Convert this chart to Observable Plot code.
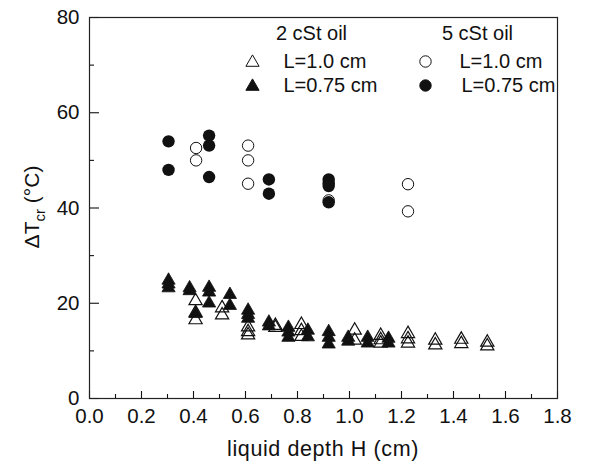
<!DOCTYPE html>
<html>
<head>
<meta charset="utf-8">
<script src="https://cdn.jsdelivr.net/npm/d3@7"></script>
<script src="https://cdn.jsdelivr.net/npm/@observablehq/plot@0.6"></script>
<style>
  html, body { margin: 0; padding: 0; background: white; }
</style>
</head>
<body>
<div id="chart"></div>
<script>
// ---- Data ----
// 2 cSt oil, L = 1.0 cm (open triangles)
const triOpenH = [0.408,0.408,0.408, 0.51,0.51, 0.61,0.61,0.61, 0.715,0.715, 0.815,0.815,0.815,
                  1.02,1.02, 1.12,1.12,1.12, 1.225,1.225,1.225, 1.33,1.33, 1.43,1.43, 1.53,1.53];
const triOpenT = [20.5,18,16.5, 19,17.5, 15,14,13.3, 15.3,14.9, 15.5,14.2,13,
                  14.3,12.2, 13.2,12.3,11.6, 13.6,12.5,11.6, 12.2,11.2, 12.4,11.5, 11.8,11];
// 2 cSt oil, L = 0.75 cm (filled triangles)
const triFillH = [0.304,0.304,0.304, 0.385,0.385, 0.408, 0.46,0.46,0.46, 0.54,0.54, 0.61,0.61,0.61,
                  0.69,0.69, 0.765,0.765,0.765, 0.84,0.84, 0.92,0.92,0.92, 0.995,0.995, 1.07,1.07, 1.15,1.15];
const triFillT = [24.8,24,23.2, 23.2,22.6, 17.8, 23.3,22.3,20, 21.8,19.5, 18.5,17.6,16.8,
                  16,15.2, 14.9,13.9,12.8, 14.3,12.9, 14,12.8,11.4, 12.8,12, 12.8,11.6, 12.6,11.6];
// 5 cSt oil, L = 1.0 cm (open circles)
const cirOpenH = [0.41,0.41, 0.61,0.61,0.61, 0.92, 1.225,1.225];
const cirOpenT = [52.6,50, 53.1,50,45.1, 41.6, 45,39.3];
// 5 cSt oil, L = 0.75 cm (filled circles)
const cirFillH = [0.304,0.304, 0.46,0.46,0.46, 0.69,0.69, 0.92,0.92,0.92,0.92];
const cirFillT = [54,48, 55.2,53.1,46.5, 46,43, 46,45.2,44.6,41.2];

// Ticks
const xMajor = [0,0.2,0.4,0.6,0.8,1.0,1.2,1.4,1.6,1.8];
const xMinor = [0.1,0.3,0.5,0.7,0.9,1.1,1.3,1.5,1.7];
const yMajor = [0,20,40,60,80];
const yMinor = [10,30,50,70];

// Legend texts
const legendGroups = ["2 cSt oil", "5 cSt oil"];
const legendLabels = ["L=1.0 cm", "L=0.75 cm"];

const W = 594, H = 470, mL = 89, mR = 37, mT = 17, mB = 72;
const frameW = W - mL - mR, frameH = H - mT - mB;
const ink = "#111";
const font = "'Liberation Sans', Arial, Helvetica, sans-serif";
const fs = 20.5, lfs = 20;

const idx = a => d3.range(a.length);
const series = (Hs, Ts, opts) =>
  Plot.dot(idx(Hs), {x: i => Hs[i], y: i => Ts[i], ...opts});

const triR = 4.9, cirR = 5.7;

const legendDot = (dx, dy, symbol, filled) =>
  Plot.dot([0], {frameAnchor: "top-left", dx, dy, symbol, r: symbol === "triangle" ? triR : cirR,
                 stroke: ink, strokeWidth: 1, fill: filled ? ink : "none"});
const legendText = (txt, dx, dy, anchor) =>
  Plot.text([txt], {text: d => d, frameAnchor: "top-left", lineAnchor: "middle", dx, dy,
                    textAnchor: anchor, fill: ink, fontSize: lfs});

const chart = Plot.plot({
  width: W, height: H,
  marginLeft: mL, marginRight: mR, marginTop: mT, marginBottom: mB,
  style: {fontFamily: font, fontSize: fs + "px", color: ink, background: "white"},
  x: {domain: [0, 1.8]},
  y: {domain: [0, 80]},
  marks: [
    Plot.ruleX(xMajor, {insetTop: frameH - 7, stroke: ink, strokeWidth: 1.1}),
    Plot.ruleX(xMinor, {insetTop: frameH - 4, stroke: ink, strokeWidth: 1.1}),
    Plot.ruleY(yMajor, {insetRight: frameW - 10, stroke: ink, strokeWidth: 1.1}),
    Plot.ruleY(yMinor, {insetRight: frameW - 5, stroke: ink, strokeWidth: 1.1}),
    Plot.frame({stroke: "#222", strokeWidth: 1.2}),
    Plot.axisX({ticks: xMajor, tickSize: 0, tickPadding: 10, tickFormat: d3.format(".1f"),
                label: null, fontSize: fs, fill: ink}),
    Plot.axisY({ticks: yMajor, tickSize: 0, tickPadding: 10, label: null, fontSize: fs, fill: ink}),
    series(triFillH, triFillT, {symbol: "triangle", r: triR, fill: ink, stroke: ink, strokeWidth: 0.8}),
    series(cirFillH, cirFillT, {symbol: "circle", r: cirR + 0.5, fill: ink, stroke: "none"}),
    series(triOpenH, triOpenT, {symbol: "triangle", r: triR, fill: "none", stroke: ink, strokeWidth: 1.2}),
    series(cirOpenH, cirOpenT, {symbol: "circle", r: cirR, fill: "none", stroke: ink, strokeWidth: 1}),
    // legend
    legendText(legendGroups[0], 222, 16, "middle"),
    legendText(legendGroups[1], 388, 16, "middle"),
    legendDot(163, 45, "triangle", false),
    legendDot(163, 69, "triangle", true),
    legendText(legendLabels[0], 194, 44, "start"),
    legendText(legendLabels[1], 194, 68, "start"),
    legendDot(336, 44, "circle", false),
    legendDot(336, 68, "circle", true),
    legendText(legendLabels[0], 370, 44, "start"),
    legendText(legendLabels[1], 372, 68, "start")
  ]
});

const svg = d3.select(chart);
// X-axis title
svg.append("text")
  .attr("x", mL + frameW / 2).attr("y", 456)
  .attr("text-anchor", "middle")
  .attr("font-family", font).attr("font-size", 21.5)
  .attr("letter-spacing", 0.6)
  .attr("fill", ink)
  .text("liquid depth H (cm)");
// Y-axis title with subscript
const yl = svg.append("text")
  .attr("transform", "translate(39,207) rotate(-90)")
  .attr("text-anchor", "middle")
  .attr("font-family", font)
  .attr("font-size", 21)
  .attr("fill", ink);
yl.append("tspan").text("ΔT");
yl.append("tspan").attr("font-size", 15).attr("dy", 6).text("cr");
yl.append("tspan").attr("dy", -6).text(" (°C)");

document.getElementById("chart").appendChild(chart);
</script>
</body>
</html>
